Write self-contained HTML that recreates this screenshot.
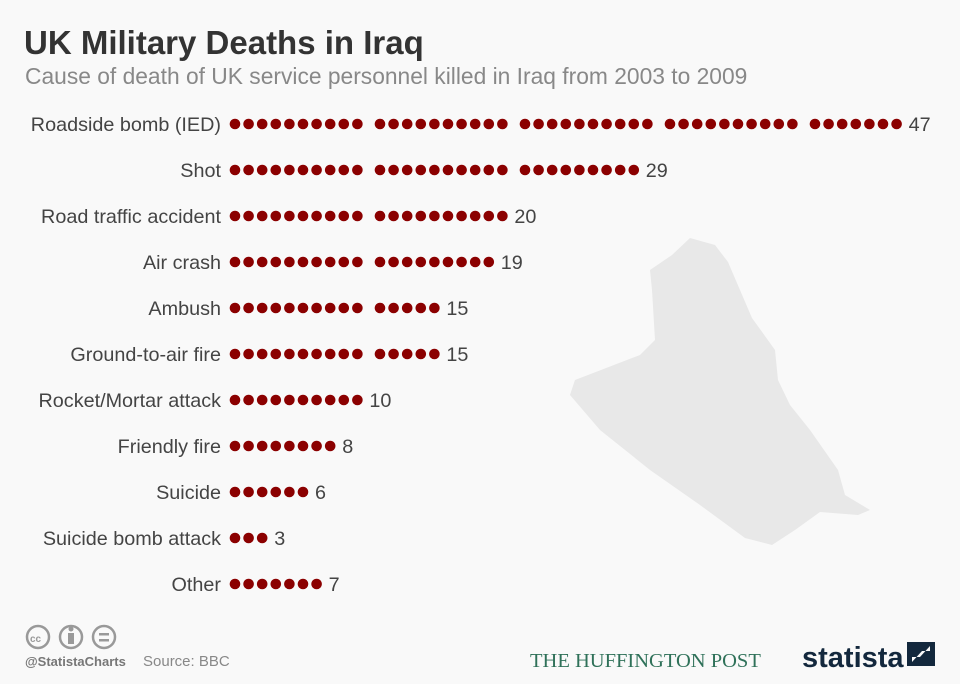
<!DOCTYPE html>
<html><head><meta charset="utf-8"><style>
body{margin:0;background:#f9f9f9;font-family:"Liberation Sans",sans-serif;}
#wrap{position:relative;width:960px;height:684px;overflow:hidden;background:#f9f9f9;}
h1{position:absolute;left:24px;top:26px;margin:0;font-size:33px;color:#333;font-weight:bold;line-height:1;}
.sub{position:absolute;left:25px;top:63px;font-size:22.8px;color:#888;}
</style></head><body>
<div id="wrap">
<h1>UK Military Deaths in Iraq</h1>
<div class="sub">Cause of death of UK service personnel killed in Iraq from 2003 to 2009</div>
<svg id="chart" width="960" height="684" style="position:absolute;left:0;top:0">
<path fill="#e8e8e8" d="M690,238 L715,245 L728,262 L740,290 L752,318 L775,350 L778,380 L790,405 L810,430 L838,470 L845,495 L870,510 L858,515 L820,512 L795,530 L772,545 L745,538 L700,505 L650,470 L600,430 L570,395 L575,380 L640,355 L655,340 L652,290 L650,270 L672,255 Z"/>
</svg>
<svg width="960" height="684" style="position:absolute;left:0;top:0">
<g fill="none" stroke="#999" stroke-width="2.5">
<circle cx="38" cy="637" r="11"/>
<circle cx="71" cy="637" r="11"/>
<circle cx="104" cy="637" r="11"/>
</g>
<text x="30" y="642" font-size="10" font-weight="bold" fill="#999">cc</text>
<rect x="68" y="633" width="6" height="11" fill="#999"/><circle cx="71" cy="629" r="2.5" fill="#999"/>
<rect x="99" y="633" width="10" height="2.5" fill="#999"/><rect x="99" y="639" width="10" height="2.5" fill="#999"/>
<text x="25" y="666" font-size="13" font-weight="bold" fill="#777">@StatistaCharts</text>
<text x="143" y="666" font-size="15" fill="#888">Source: BBC</text>
<text x="530" y="667" font-size="20.5" fill="#2f7159" font-family="Liberation Serif,serif">THE HUFFINGTON POST</text>
<text x="802" y="667" font-size="29" font-weight="bold" fill="#13283d">statista</text>
<path d="M907,642 L935,642 L935,666 L907,666 Z" fill="#13283d"/>
<path d="M912,662 L922,651 L930,651 L930,646 L920,657 L912,657Z" fill="#f9f9f9"/>
</svg>
</div>
<script>
const categories=["Roadside bomb (IED)","Shot","Road traffic accident","Air crash","Ambush","Ground-to-air fire","Rocket/Mortar attack","Friendly fire","Suicide","Suicide bomb attack","Other"];
const values=[47,29,20,19,15,15,10,8,6,3,7];
const ns="http://www.w3.org/2000/svg";
const svg=document.getElementById('chart');
const x0=235,step=13.6,gap=9,y0=124,rowH=46;
function xPos(i){return x0+i*step+Math.floor(i/10)*gap;}
function yPos(r){return y0+r*rowH;}
categories.forEach((c,r)=>{
  const y=yPos(r);
  const t=document.createElementNS(ns,'text');
  
  
  t.setAttribute('x',221);t.setAttribute('y',y+7);t.setAttribute('text-anchor','end');
  t.setAttribute('font-size','19.8');t.setAttribute('fill','#444');t.textContent=c;svg.appendChild(t);
  const v=values[r];
  for(let i=0;i<v;i++){
    const d=document.createElementNS(ns,'circle');
    
    
    d.setAttribute('cx',xPos(i));d.setAttribute('cy',y);d.setAttribute('r',5.3);d.setAttribute('fill','#8b0000');svg.appendChild(d);
  }
  const vl=document.createElementNS(ns,'text');
  
  
  vl.setAttribute('x',xPos(v-1)+12);vl.setAttribute('y',y+7);
  vl.setAttribute('font-size','19.8');vl.setAttribute('fill','#444');vl.textContent=v;svg.appendChild(vl);
});
</script>
</body></html>
